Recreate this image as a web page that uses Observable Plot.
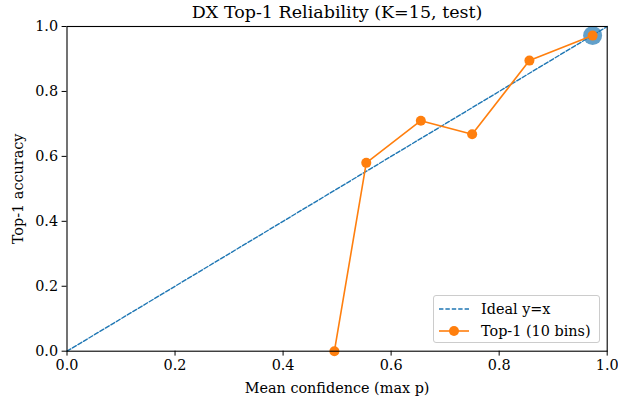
<!DOCTYPE html>
<html>
<head>
<meta charset="utf-8">
<script src="https://cdn.jsdelivr.net/npm/d3@7"></script>
<script src="https://cdn.jsdelivr.net/npm/@observablehq/plot@0.6"></script>
<style>
  html, body { margin: 0; padding: 0; background: #fff; }
  #wrap { position: relative; width: 618px; height: 403px; font-family: "DejaVu Serif", serif; }
  #legend { position: absolute; left: 433px; top: 295px; width: 165px; height: 46px;
    border: 1px solid #cccccc; border-radius: 3px; background: rgba(255,255,255,0.8);
    font-size: 14.4px; color: #000; }
  .row { position: absolute; left: 0; height: 20px; }
  .row svg { position: absolute; left: 4px; top: 0; }
  .row span { position: absolute; left: 47px; top: 0; white-space: nowrap; line-height: 20px; }
</style>
</head>
<body>
<div id="wrap"></div>
<script>
const title = "DX Top-1 Reliability (K=15, test)";
const xLabel = "Mean confidence (max p)";
const yLabel = "Top-1 accuracy";
const ticks = [0, 0.2, 0.4, 0.6, 0.8, 1.0];
const idealX = [0, 1];
const binConf = [0.495, 0.554, 0.655, 0.750, 0.856, 0.973];
const binAcc  = [0.000, 0.580, 0.710, 0.668, 0.895, 0.972];
const highlightConf = [0.973];
const highlightAcc  = [0.972];
const legendLabels = ["Ideal y=x", "Top-1 (10 bins)"];

const blue = "#1f77b4", orange = "#ff7f0e";
const bins = binConf.map((c, i) => ({c, a: binAcc[i]}));
const ideal = idealX.map(v => ({c: v, a: v}));
const hl = highlightConf.map((c, i) => ({c, a: highlightAcc[i]}));

const chart = Plot.plot({
  width: 618,
  height: 403,
  marginLeft: 66.5,
  marginRight: 11.3,
  marginTop: 26,
  marginBottom: 52.3,
  style: {fontFamily: "DejaVu Serif", fontSize: "14.4px", color: "#000", background: "#fff"},
  x: {domain: [0, 1]},
  y: {domain: [0, 1]},
  marks: [
    Plot.line(ideal, {x: "c", y: "a", stroke: blue, strokeWidth: 1.4, strokeDasharray: "4.4,2"}),
    Plot.dot(hl, {x: "c", y: "a", r: 9.5, fill: blue, fillOpacity: 0.7, stroke: "none"}),
    Plot.line(bins, {x: "c", y: "a", stroke: orange, strokeWidth: 1.6}),
    Plot.dot(bins, {x: "c", y: "a", r: 5, fill: orange, stroke: "none"}),
    Plot.frame({stroke: "#000", strokeWidth: 1.1}),
    Plot.axisX({ticks, tickFormat: d3.format(".1f"), tickSize: 4.9, tickPadding: 4, fontSize: 14.4,
      label: xLabel, labelAnchor: "center", labelArrow: "none", labelOffset: 42}),
    Plot.axisY({ticks, tickFormat: d3.format(".1f"), tickSize: 4.9, tickPadding: 4, fontSize: 14.4,
      label: yLabel, labelAnchor: "center", labelArrow: "none", labelOffset: 54}),
    Plot.text([title], {frameAnchor: "top", dy: -13.8, fontSize: 17.5, text: d => d, lineAnchor: "middle"})
  ]
});
const wrap = document.getElementById("wrap");
wrap.appendChild(chart);

const legend = document.createElement("div");
legend.id = "legend";
legend.innerHTML = `
  <div class="row" style="top:3px"><svg width="32" height="20"><line x1="1" y1="10" x2="31" y2="10" stroke="${blue}" stroke-width="1.4" stroke-dasharray="4.4,2"/></svg><span>${legendLabels[0]}</span></div>
  <div class="row" style="top:25px"><svg width="32" height="20"><line x1="1" y1="10" x2="31" y2="10" stroke="${orange}" stroke-width="1.6"/><circle cx="16" cy="10" r="5" fill="${orange}"/></svg><span>${legendLabels[1]}</span></div>`;
wrap.appendChild(legend);
</script>
</body>
</html>
